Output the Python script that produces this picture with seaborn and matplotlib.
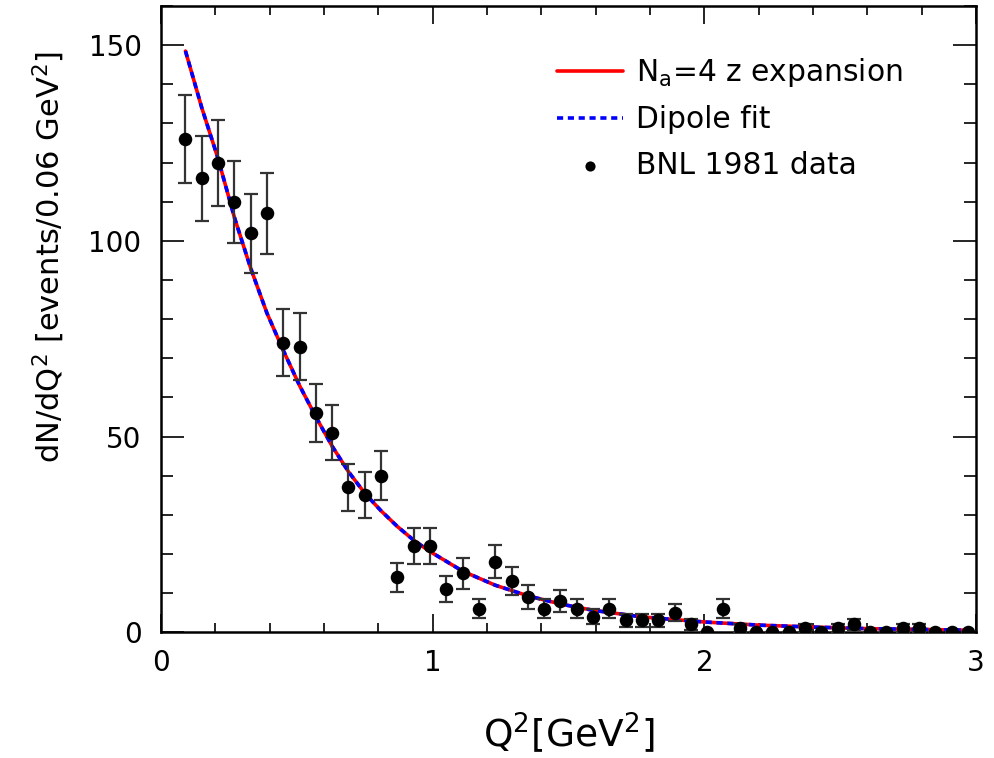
import numpy as np
import matplotlib
matplotlib.use('Agg')
import matplotlib.pyplot as plt
import seaborn as sns
from matplotlib.ticker import MultipleLocator

# BNL 1981 data: bin centres (0.06 GeV^2 bins), counts and errors
q2_data = [0.09, 0.15, 0.21, 0.27, 0.33, 0.39, 0.45, 0.51, 0.57, 0.63,
           0.69, 0.75, 0.81, 0.87, 0.93, 0.99, 1.05, 1.11, 1.17, 1.23,
           1.29, 1.35, 1.41, 1.47, 1.53, 1.59, 1.65, 1.71, 1.77, 1.83,
           1.89, 1.95, 2.01, 2.07, 2.13, 2.19, 2.25, 2.31, 2.37, 2.43,
           2.49, 2.55, 2.61, 2.67, 2.73, 2.79, 2.85, 2.91, 2.97]
counts = [126, 116, 120, 110, 102, 107, 74, 73, 56, 51,
          37, 35, 40, 14, 22, 22, 11, 15, 6, 18,
          13, 9, 6, 8, 6, 4, 6, 3, 3, 3,
          5, 2, 0, 6, 1, 0, 0, 0, 1, 0,
          1, 2, 0, 0, 1, 1, 0, 0, 0]
errors = [11.2, 10.8, 11.0, 10.5, 10.1, 10.3, 8.6, 8.5, 7.5, 7.1,
          6.1, 5.9, 6.3, 3.7, 4.7, 4.7, 3.3, 3.9, 2.4, 4.2,
          3.6, 3.0, 2.4, 2.8, 2.4, 2.0, 2.4, 1.7, 1.7, 1.7,
          2.2, 1.4, 0.0, 2.4, 1.0, 0.0, 0.0, 0.0, 1.0, 0.0,
          1.0, 1.4, 0.0, 0.0, 1.0, 1.0, 0.0, 0.0, 0.0]

# fit curves (both overlap)
q2_fit = [0.09, 0.15, 0.21, 0.27, 0.33, 0.39, 0.45, 0.51, 0.57, 0.63,
          0.69, 0.75, 0.81, 0.87, 0.93, 0.99, 1.11, 1.23, 1.35, 1.47,
          1.59, 1.77, 2.0, 2.2, 2.4, 2.6, 2.8, 2.97]
zexp_fit = [148.5, 134, 121, 106, 93, 81.5, 72, 63, 55, 47.5,
            41, 35.5, 31, 27, 23.5, 20.6, 15.6, 12, 9.3, 7.2,
            5.6, 3.9, 2.6, 1.8, 1.3, 0.9, 0.7, 0.5]
dipole_fit = [148.5, 134, 121, 106, 93, 81.5, 72, 63, 55, 47.5,
              41, 35.5, 31, 27, 23.5, 20.6, 15.6, 12, 9.3, 7.2,
              5.6, 3.9, 2.6, 1.8, 1.3, 0.9, 0.7, 0.5]

sns.set_style('ticks')
plt.rcParams['font.family'] = ['DejaVu Sans']
plt.rcParams['mathtext.fontset'] = 'dejavusans'
plt.rcParams['text.color'] = 'black'
plt.rcParams['axes.labelcolor'] = 'black'

fig = plt.figure(figsize=(9.94, 7.58), dpi=100)
ax = fig.add_axes([0.162, 0.166, 0.820, 0.826])

sns.lineplot(x=q2_fit, y=zexp_fit, ax=ax, color='red', lw=2.6,
             label=r'N$_{\mathrm{a}}$=4 z expansion')
sns.lineplot(x=q2_fit, y=dipole_fit, ax=ax, color='blue', lw=2.6,
             linestyle=(0, (1.7, 1.3)), label='Dipole fit')
ax.errorbar(q2_data, counts, yerr=errors, fmt='none',
            ecolor='#333333', elinewidth=1.6, capsize=5, capthick=1.6,
            zorder=3)
sns.scatterplot(x=q2_data, y=counts, ax=ax, color='black', s=95,
                edgecolor='black', linewidth=0, label='BNL 1981 data',
                zorder=4)

ax.set_xlim(0, 3)
ax.set_ylim(0, 160)
ax.xaxis.set_major_locator(MultipleLocator(1))
ax.xaxis.set_minor_locator(MultipleLocator(0.2))
ax.yaxis.set_major_locator(MultipleLocator(50))
ax.yaxis.set_minor_locator(MultipleLocator(10))
ax.tick_params(axis='both', which='both', direction='in', top=True,
               right=True, width=1.2, colors='black', labelsize=20)
ax.tick_params(axis='x', which='major', length=13, pad=12)
ax.tick_params(axis='x', which='minor', length=6.5)
ax.tick_params(axis='y', which='major', length=16.5, pad=14)
ax.tick_params(axis='y', which='minor', length=8.5)
for sp in ax.spines.values():
    sp.set_linewidth(1.8)
    sp.set_color('black')

ax.set_xlabel(r'Q$^2$[GeV$^2$]', fontsize=27, labelpad=24)
ax.set_ylabel(r'dN/dQ$^2$ [events/0.06 GeV$^2$]', fontsize=22)
ax.yaxis.set_label_coords(-0.115, 0.60)

ax.legend(loc='upper left', bbox_to_anchor=(0.486, 0.92), frameon=False,
          fontsize=21.4, handlelength=2.2, handletextpad=0.45,
          labelspacing=0.55, borderpad=0, borderaxespad=0, markerscale=0.75)

fig.savefig('out.png', dpi=100)
